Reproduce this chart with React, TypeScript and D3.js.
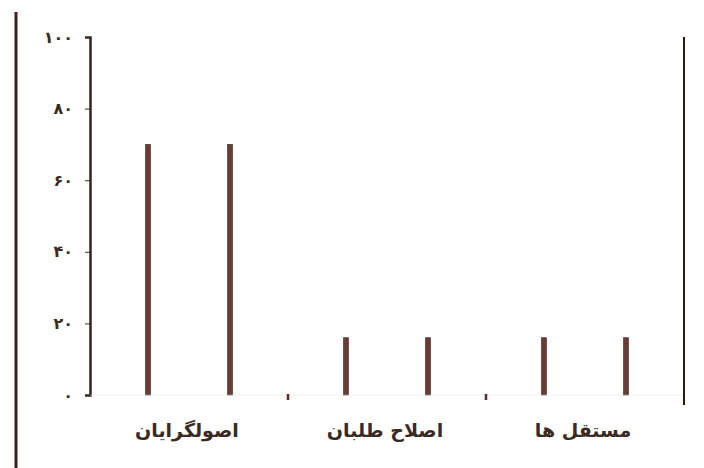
import React, { useEffect, useRef } from 'react';
import * as d3 from 'd3';

// groups and the two bars of each group
const categories = ['اصولگرایان', 'اصلاح طلبان', 'مستقل ها'];
const seriesKeys = ['a', 'b'];
const seriesA = [70, 16, 16];
const seriesB = [70, 16, 16];
const yTicks = [0, 20, 40, 60, 80, 100];

const toPersian = (n: number) => String(n).replace(/\d/g, d => '۰۱۲۳۴۵۶۷۸۹'[+d]);

const App: React.FC = () => {
    const svgRef = useRef(null);
    const width = 704;
    const height = 468;

    useEffect(() => {
        const svg = d3.select(svgRef.current);
        svg.selectAll('*').remove();

        const left = 90, right = 684, top = 37, bottom = 395;

        const x0 = d3.scaleBand().domain(categories).range([left, right]).padding(0);
        const x1 = d3.scalePoint().domain(seriesKeys).range([0, x0.bandwidth()]).padding(0.707);
        const y = d3.scaleLinear().domain([0, 100]).range([bottom, top]);

        // page border line on the left
        svg.append('line')
            .attr('x1', 16).attr('x2', 16).attr('y1', 12).attr('y2', height)
            .attr('stroke', '#3a1f1a').attr('stroke-width', 3);

        const barW = 5;
        const rows = categories.map((c, i) => ({ c, a: seriesA[i], b: seriesB[i] }));
        rows.forEach(r => {
            seriesKeys.forEach(k => {
                const v = (r as any)[k] as number;
                svg.append('rect')
                    .attr('x', (x0(r.c) as number) + (x1(k) as number) - barW / 2)
                    .attr('y', y(v))
                    .attr('width', barW)
                    .attr('height', y(0) - y(v))
                    .attr('fill', '#6a3b34')
                    .attr('stroke', '#3a2a20')
                    .attr('stroke-width', 0.6);
            });
        });

        // y axis
        const yAxis = svg.append('g')
            .attr('transform', `translate(${left},0)`)
            .call(d3.axisLeft(y).tickValues(yTicks).tickSize(5).tickFormat(d => toPersian(d as number)));
        yAxis.select('.domain').attr('stroke', '#3a1f1a').attr('stroke-width', 2.5);
        yAxis.selectAll('.tick line').attr('stroke', '#333');
        yAxis.selectAll('text')
            .attr('x', -17)
            .attr('font-family', 'DejaVu Sans, sans-serif')
            .attr('font-size', 16)
            .attr('font-weight', 'bold')
            .attr('fill', '#3a2a22');

        // x axis with ticks at group boundaries
        svg.append('line')
            .attr('x1', left).attr('x2', right).attr('y1', bottom).attr('y2', bottom)
            .attr('stroke', '#ddd').attr('stroke-width', 0.5);
        categories.slice(1).forEach(c => {
            svg.append('line')
                .attr('x1', x0(c) as number).attr('x2', x0(c) as number)
                .attr('y1', bottom - 1).attr('y2', bottom + 5)
                .attr('stroke', '#5a2a2a').attr('stroke-width', 2.5);
        });

        // right axis line
        svg.append('line')
            .attr('x1', right).attr('x2', right).attr('y1', top).attr('y2', bottom + 10)
            .attr('stroke', '#2a1a14').attr('stroke-width', 2);

        svg.append('g').selectAll('text')
            .data(categories)
            .enter().append('text')
            .attr('x', d => (x0(d) as number) + x0.bandwidth() / 2 - 2)
            .attr('y', 437)
            .attr('text-anchor', 'middle')
            .attr('direction', 'rtl')
            .attr('font-family', 'DejaVu Sans, sans-serif')
            .attr('font-size', 19)
            .attr('font-weight', 'bold')
            .attr('fill', '#3a2a22')
            .text(d => d);
    }, []);

    return (
        <svg ref={svgRef} width={width} height={height}
            style={{ position: 'absolute', left: 0, top: 0, backgroundColor: 'white' }}></svg>
    );
};

export default App;
